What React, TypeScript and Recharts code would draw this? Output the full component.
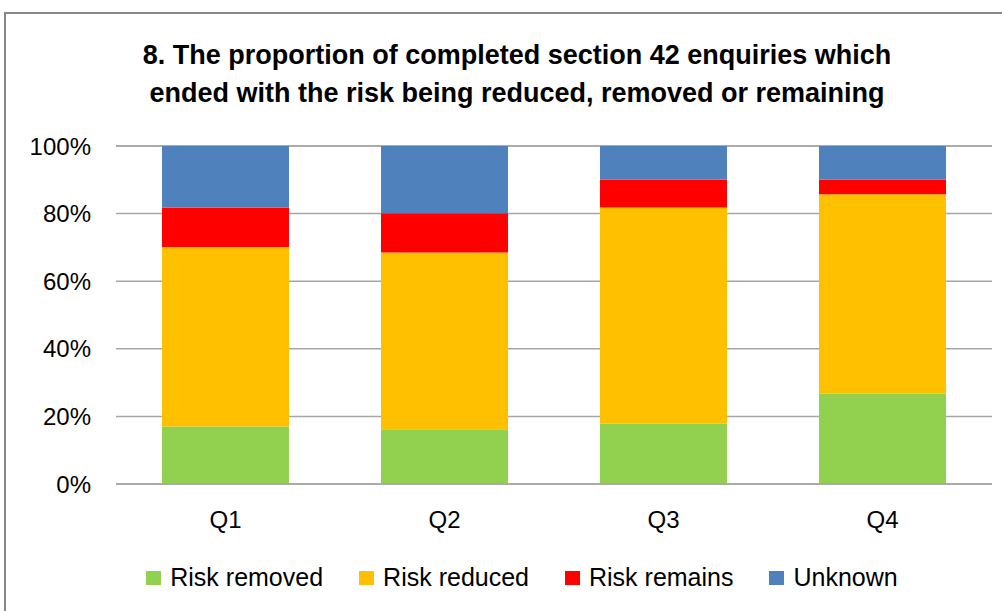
import { BarChart, Bar, XAxis, YAxis, CartesianGrid } from 'recharts'

const quarters = ['Q1', 'Q2', 'Q3', 'Q4']
const riskRemoved = [17.0, 16.2, 17.8, 26.8]
const riskReduced = [53.1, 52.3, 64.0, 58.9]
const riskRemains = [11.7, 11.6, 8.3, 4.4]
const unknown = [18.2, 19.9, 9.9, 9.9]
const yTicks = [0, 20, 40, 60, 80, 100]

const series = [
  { key: 'removed', name: 'Risk removed', color: '#92D050' },
  { key: 'reduced', name: 'Risk reduced', color: '#FFC000' },
  { key: 'remains', name: 'Risk remains', color: '#FF0000' },
  { key: 'unknown', name: 'Unknown', color: '#4F81BD' }
]

const data = quarters.map((q, i) => ({
  quarter: q,
  removed: riskRemoved[i],
  reduced: riskReduced[i],
  remains: riskRemains[i],
  unknown: unknown[i]
}))

const font = '"Liberation Sans", Arial, sans-serif'
const gridColor = '#A6A6A6'

export default function App() {
  return (
    <div style={{ position: 'fixed', left: 0, top: 0, width: 1002, height: 611, overflow: 'hidden', background: '#fff', fontFamily: font }}>
      {/* chart frame */}
      <div style={{ position: 'absolute', left: 4, top: 12, width: 1100, height: 700, borderLeft: '2px solid #878787', borderTop: '2px solid #878787' }} />

      <div style={{ position: 'absolute', left: 0, top: 36, width: 1034, textAlign: 'center', fontWeight: 700, fontSize: 27, lineHeight: '38px', color: '#000' }}>
        8. The proportion of completed section 42 enquiries which
        <br />
        ended with the risk being reduced, removed or remaining
      </div>

      <div style={{ position: 'absolute', left: 0, top: 0 }}>
        <BarChart width={1002} height={611} data={data} margin={{ top: 146, right: 10, left: 0, bottom: 67 }} barCategoryGap="21%">
          <CartesianGrid vertical={false} stroke={gridColor} strokeWidth={1.5} />
          <XAxis
            dataKey="quarter"
            height={60}
            tickLine={false}
            tickSize={0}
            tickMargin={27}
            axisLine={{ stroke: gridColor, strokeWidth: 1.5 }}
            tick={{ fontSize: 24, fill: '#000', fontFamily: font }}
          />
          <YAxis
            width={116}
            domain={[0, 100]}
            ticks={yTicks}
            tickFormatter={(v: number) => `${v}%`}
            axisLine={false}
            tickLine={false}
            tickSize={0}
            tickMargin={25}
            tick={{ fontSize: 24, fill: '#000', fontFamily: font }}
          />
          {series.map(s => (
            <Bar key={s.key} dataKey={s.key} name={s.name} stackId="a" fill={s.color} isAnimationActive={false} />
          ))}
        </BarChart>
      </div>

      {/* legend */}
      <div style={{ position: 'absolute', left: 0, top: 563, width: 1044, display: 'flex', justifyContent: 'center', gap: 36, fontSize: 25, color: '#000' }}>
        {series.map(s => (
          <div key={s.key} style={{ display: 'flex', alignItems: 'center', gap: 9 }}>
            <span style={{ display: 'inline-block', width: 15, height: 14, background: s.color }} />
            <span>{s.name}</span>
          </div>
        ))}
      </div>
    </div>
  )
}
